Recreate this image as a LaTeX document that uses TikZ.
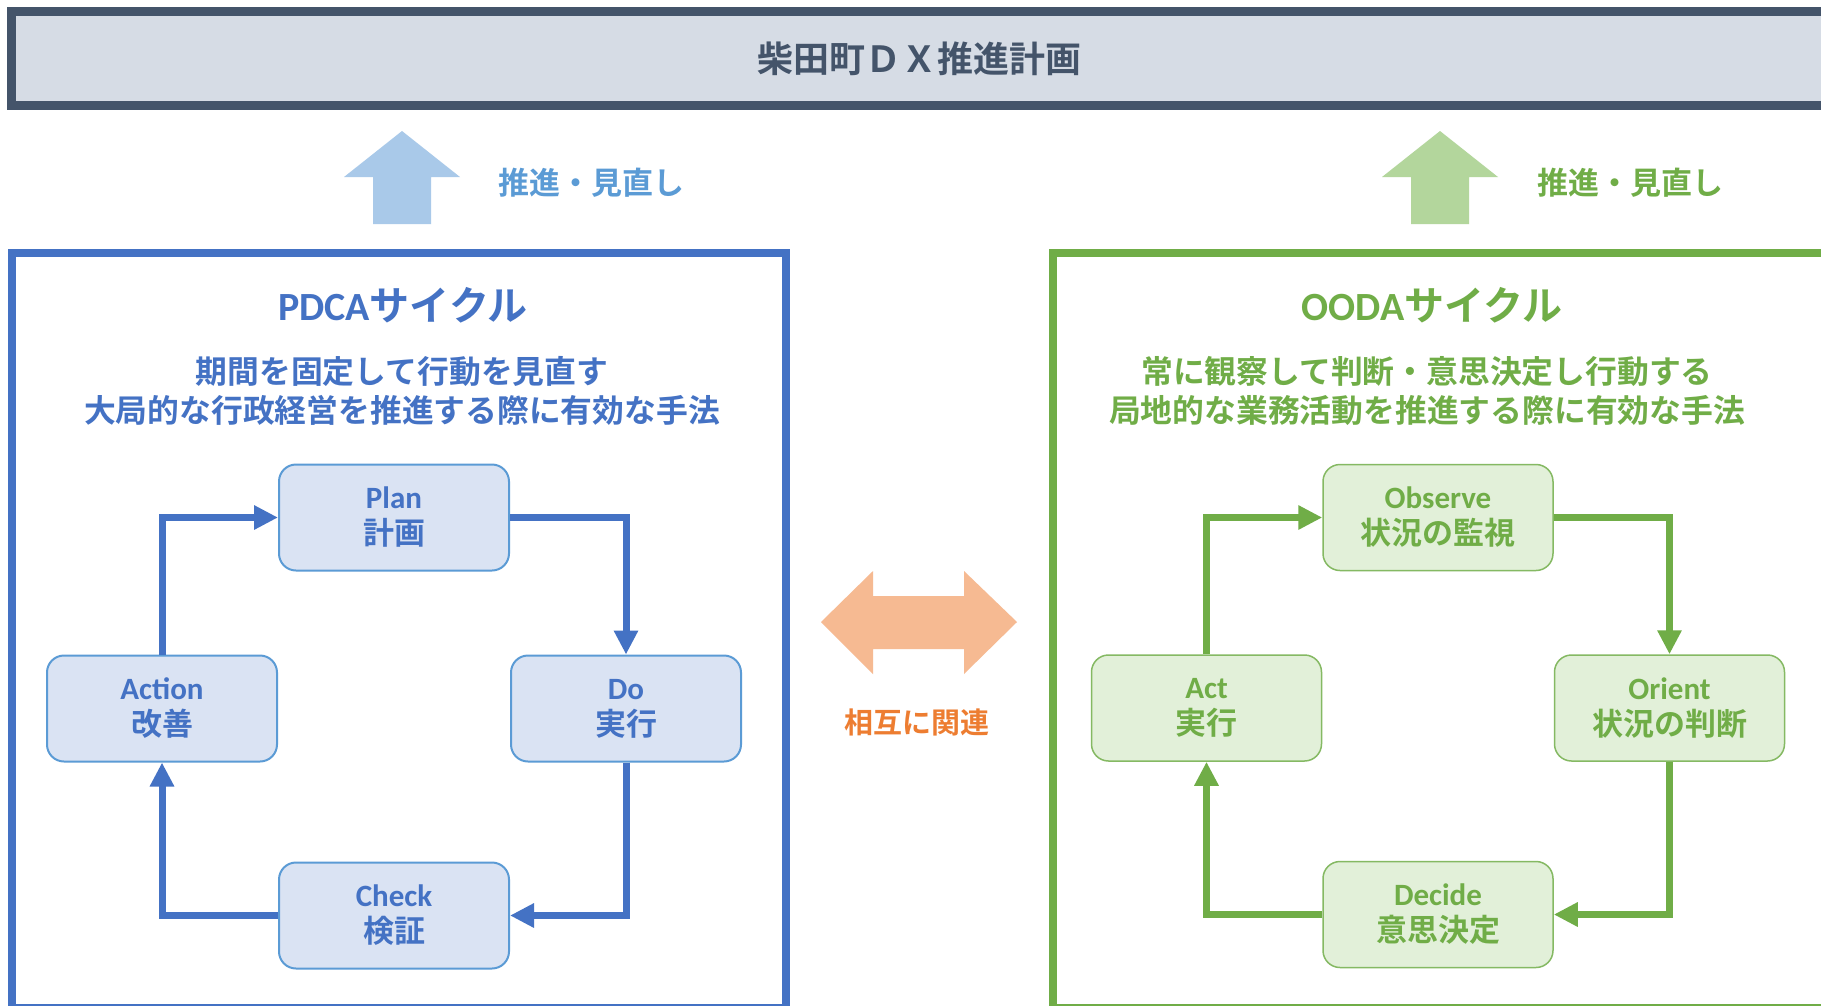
\documentclass[tikz,border=0pt]{standalone}
\usepackage{fontspec}
\setmainfont{Carlito}[BoldFont={* Bold}]
\newfontfamily\cjk{Noto Sans CJK JP}[BoldFont={* Bold}]
\newcommand\jp[1]{{\cjk #1}}
\usetikzlibrary{positioning,arrows.meta}

\definecolor{slate}{HTML}{44546A}
\definecolor{slatefill}{HTML}{D6DCE5}
\definecolor{pdcablue}{HTML}{4472C4}
\definecolor{pdcaline}{HTML}{5B9BD5}
\definecolor{pdcafill}{HTML}{DAE3F3}
\definecolor{pdcaup}{HTML}{A9C9E9}
\definecolor{oodagreen}{HTML}{70AD47}
\definecolor{oodafill}{HTML}{E2F0D9}
\definecolor{oodaup}{HTML}{B3D69C}
\definecolor{relorange}{HTML}{ED7D31}
\definecolor{relfill}{HTML}{F6BA92}

\tikzset{
  stagebox/.style={rounded corners=17pt, minimum width=230pt,
    minimum height=106pt, align=center, inner sep=0pt,
    font=\fontsize{31}{36}\selectfont\bfseries},
  pdcabox/.style={stagebox, draw=pdcaline, line width=2pt,
    fill=pdcafill, text=pdcablue},
  oodabox/.style={stagebox, draw=oodagreen!85!white, line width=1.5pt,
    fill=oodafill, text=oodagreen},
  flow/.style={line width=7pt, line join=miter,
    -{Triangle[width=23pt,length=24pt]}},
  frame/.style={line width=8pt, minimum width=774.5pt,
    minimum height=755.5pt, inner sep=0pt},
  heading/.style={font=\fontsize{40}{46}\selectfont\bfseries},
  remark/.style={align=center, font=\fontsize{31.8}{39}\selectfont\bfseries},
  tag/.style={font=\fontsize{31}{36}\selectfont\bfseries}
}

\begin{document}
\begin{tikzpicture}[x=1pt, y=-1pt]
  \clip (0,0) rectangle (1821,1005);
  \fill[white] (0,0) rectangle (1821,1005);

  % title bar
  \node[draw=slate, fill=slatefill, line width=8.5pt, minimum width=1815pt,
    minimum height=94pt, text=slate, font=\fontsize{36}{40}\selectfont\bfseries]
    (plan title) at (919,58.5) {\jp{柴田町ＤＸ推進計画}};

  % block arrows
  \fill[pdcaup] (402,131) -- ++(58,46) -- ++(-29,0) -- ++(0,47)
    -- ++(-58,0) -- ++(0,-47) -- ++(-29,0) -- cycle;
  \fill[oodaup] (1440,131) -- ++(58,46) -- ++(-29,0) -- ++(0,47)
    -- ++(-58,0) -- ++(0,-47) -- ++(-29,0) -- cycle;
  \node[tag, text=pdcaline] (pdca push) at (591,183) {\jp{推進・見直し}};
  \node[tag, text=oodagreen] (ooda push) at (1630,183) {\jp{推進・見直し}};

  % PDCA side
  \node[frame, draw=pdcablue] (pdca) at (398.75,630.25) {};
  \node[heading, text=pdcablue] (pdca head) at (403,305) {PDCA\jp{サイクル}};
  \node[remark, text=pdcablue] (pdca note) at (402,391)
    {\jp{期間を固定して行動を見直す}\\\jp{大局的な行政経営を推進する際に有効な手法}};

  \node[pdcabox] (plan) at (394,517.5) {Plan\\\jp{計画}};
  \node[pdcabox, below left=83pt and 0pt of plan.south west] (action)
    {Action\\\jp{改善}};
  \node[pdcabox, below right=83pt and 0pt of plan.south east] (do)
    {Do\\\jp{実行}};
  \node[pdcabox, below right=99pt and 0pt of action.south east] (check)
    {Check\\\jp{検証}};

  \draw[flow, pdcablue] (plan.east) -| (do.north);
  \draw[flow, pdcablue] (do.south) |- (check.east);
  \draw[flow, pdcablue] (check.west) -| (action.south);
  \draw[flow, pdcablue] (action.north) |- (plan.west);

  % relation
  \fill[relfill] (821,622) -- (873,571) -- (873,596) -- (964,596)
    -- (964,571) -- (1017,622) -- (964,674) -- (964,649) -- (873,649)
    -- (873,674) -- cycle;
  \node[font=\fontsize{29}{34}\selectfont\bfseries, text=relorange]
    (relation) at (917,722) {\jp{相互に関連}};

  % OODA side
  \node[frame, draw=oodagreen] (ooda) at (1440.25,630.25) {};
  \node[heading, text=oodagreen] (ooda head) at (1432,305) {OODA\jp{サイクル}};
  \node[remark, text=oodagreen] (ooda note) at (1427,391)
    {\jp{常に観察して判断・意思決定し行動する}\\\jp{局地的な業務活動を推進する際に有効な手法}};

  \node[oodabox] (observe) at (1438,517.5) {Observe\\\jp{状況の監視}};
  \node[oodabox, below left=83pt and 0pt of observe.south west] (act)
    {Act\\\jp{実行}};
  \node[oodabox, below right=83pt and 0pt of observe.south east] (orient)
    {Orient\\\jp{状況の判断}};
  \node[oodabox, below right=99pt and 0pt of act.south east] (decide)
    {Decide\\\jp{意思決定}};

  \draw[flow, oodagreen] (observe.east) -| (orient.north);
  \draw[flow, oodagreen] (orient.south) |- (decide.east);
  \draw[flow, oodagreen] (decide.west) -| (act.south);
  \draw[flow, oodagreen] (act.north) |- (observe.west);
\end{tikzpicture}
\end{document}
